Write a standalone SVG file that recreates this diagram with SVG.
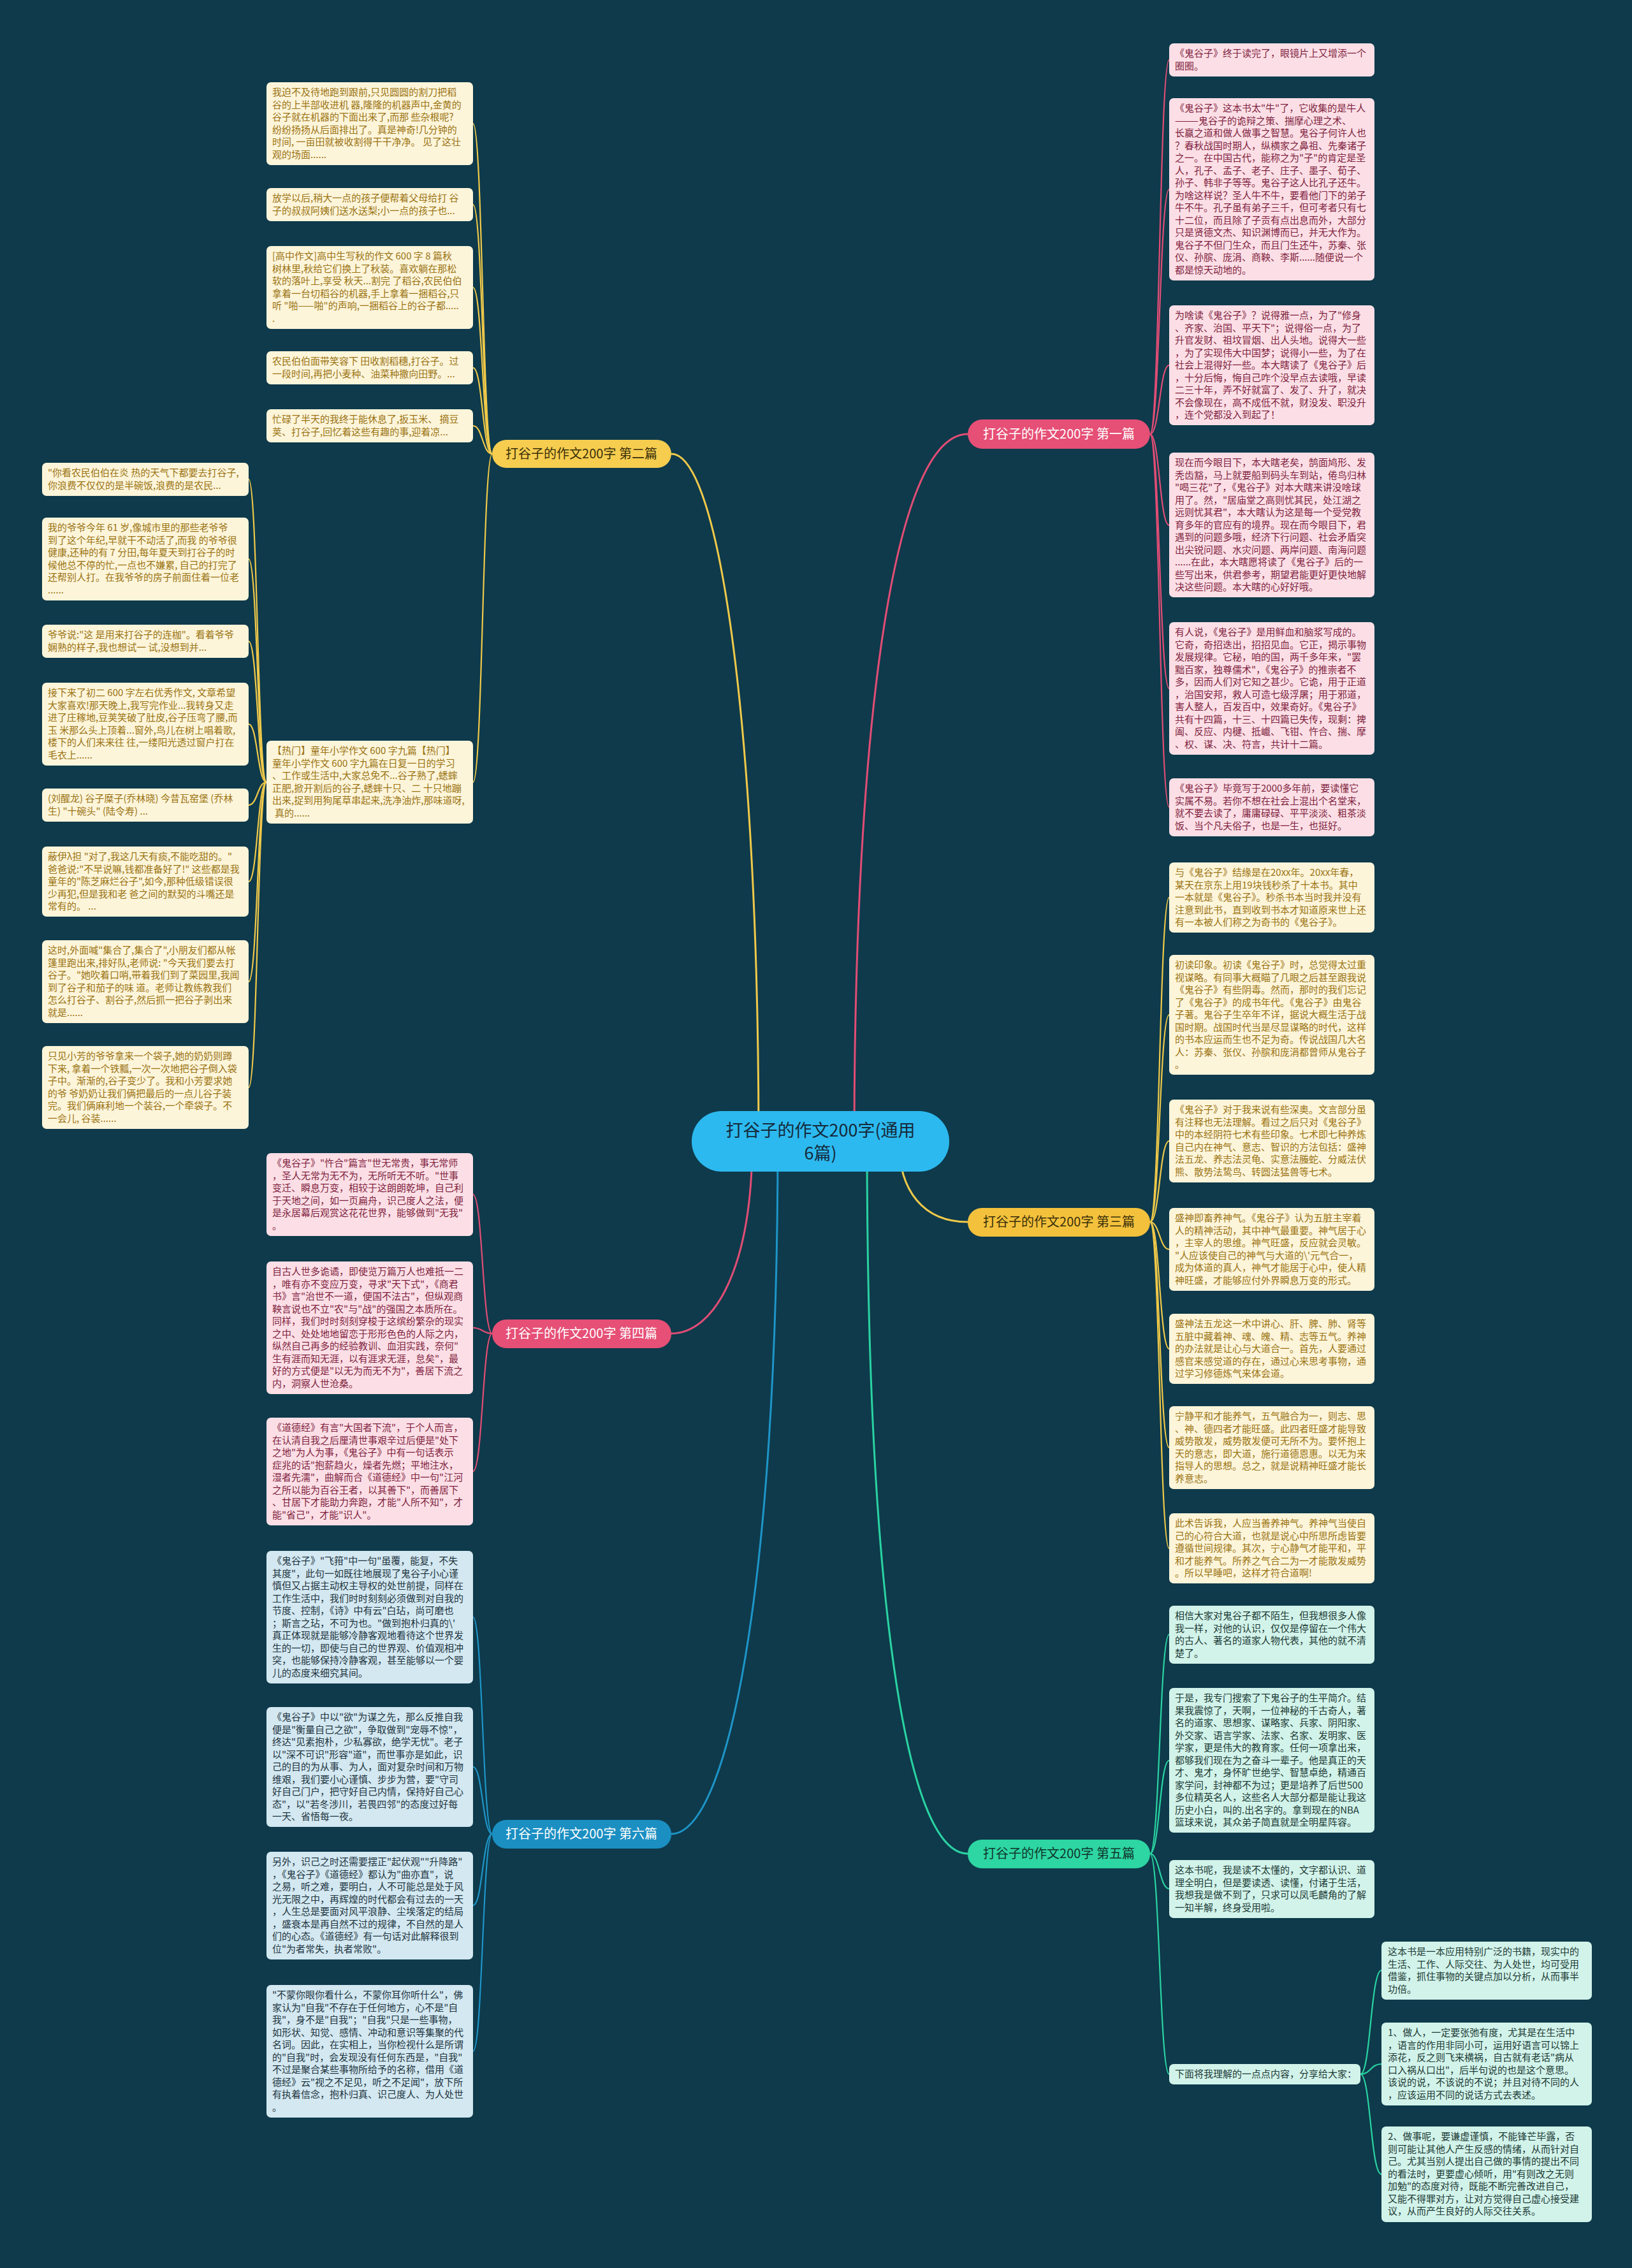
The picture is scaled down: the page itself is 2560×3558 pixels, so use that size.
<svg xmlns="http://www.w3.org/2000/svg" width="2560" height="3558" viewBox="0 0 2560 3558">
<style>
text{font-family:"Noto Sans CJK SC","Noto Sans",sans-serif;}
.t{font-size:15px;}
.bc{fill:#fdf5da;} .tc{fill:#9a7313;}
.bp{fill:#fcdfe6;} .tp{fill:#7f1f3f;}
.bb{fill:#d3e8f1;} .tb{fill:#1e3440;}
.bg{fill:#d2f3ea;} .tg{fill:#1c3a35;}
.c{fill:none;stroke-width:2.2;}
.m{fill:none;stroke-width:3;}
.cp{stroke:#e24d75;} .cy{stroke:#f0c94a;} .cg{stroke:#2ad3a2;} .cb{stroke:#1e95c8;}
.nt{font-size:20px;text-anchor:middle;}
</style>
<rect width="2560" height="3558" fill="#0e3a4b"/>
<g id="connectors">
<path class="m cp" d="M1340,1790 C1340,1150 1400,681 1518,681"/>
<path class="m cy" d="M1410,1790 C1410,1870 1450,1917 1518,1917"/>
<path class="m cg" d="M1360,1790 C1360,2500 1420,2908 1518,2908"/>
<path class="m cy" d="M1190,1790 C1190,1160 1130,712 1053,712"/>
<path class="m cp" d="M1180,1790 C1180,1990 1120,2092 1053,2092"/>
<path class="m cb" d="M1220,1790 C1220,2500 1140,2877 1053,2877"/>
<path class="c cp" d="M1804,681 C1819,681 1819,94 1834,94"/>
<path class="c cp" d="M1804,681 C1819,681 1819,297 1834,297"/>
<path class="c cp" d="M1804,681 C1819,681 1819,573 1834,573"/>
<path class="c cp" d="M1804,681 C1819,681 1819,824 1834,824"/>
<path class="c cp" d="M1804,681 C1819,681 1819,1080 1834,1080"/>
<path class="c cp" d="M1804,681 C1819,681 1819,1266 1834,1266"/>
<path class="c cy" d="M1804,1917 C1819,1917 1819,1408 1834,1408"/>
<path class="c cy" d="M1804,1917 C1819,1917 1819,1592 1834,1592"/>
<path class="c cy" d="M1804,1917 C1819,1917 1819,1790 1834,1790"/>
<path class="c cy" d="M1804,1917 C1819,1917 1819,1960 1834,1960"/>
<path class="c cy" d="M1804,1917 C1819,1917 1819,2116 1834,2116"/>
<path class="c cy" d="M1804,1917 C1819,1917 1819,2271 1834,2271"/>
<path class="c cy" d="M1804,1917 C1819,1917 1819,2429 1834,2429"/>
<path class="c cg" d="M1804,2908 C1819,2908 1819,2564 1834,2564"/>
<path class="c cg" d="M1804,2908 C1819,2908 1819,2762 1834,2762"/>
<path class="c cg" d="M1804,2908 C1819,2908 1819,2963 1834,2963"/>
<path class="c cg" d="M1804,2908 C1819,2908 1819,3254 1834,3254"/>
<path class="c cg" d="M2134,3254 C2150,3254 2150,3091 2167,3091"/>
<path class="c cg" d="M2134,3254 C2150,3254 2150,3238 2167,3238"/>
<path class="c cg" d="M2134,3254 C2150,3254 2150,3411 2167,3411"/>
<path class="c cy" d="M772,712 C757,712 757,194 742,194"/>
<path class="c cy" d="M772,712 C757,712 757,321 742,321"/>
<path class="c cy" d="M772,712 C757,712 757,451 742,451"/>
<path class="c cy" d="M772,712 C757,712 757,577 742,577"/>
<path class="c cy" d="M772,712 C757,712 757,668 742,668"/>
<path class="c cy" d="M772,712 C757,712 757,1227 742,1227"/>
<path class="c cy" d="M418,1227 C404,1227 404,752 390,752"/>
<path class="c cy" d="M418,1227 C404,1227 404,877 390,877"/>
<path class="c cy" d="M418,1227 C404,1227 404,1006 390,1006"/>
<path class="c cy" d="M418,1227 C404,1227 404,1136 390,1136"/>
<path class="c cy" d="M418,1227 C404,1227 404,1263 390,1263"/>
<path class="c cy" d="M418,1227 C404,1227 404,1383 390,1383"/>
<path class="c cy" d="M418,1227 C404,1227 404,1540 390,1540"/>
<path class="c cy" d="M418,1227 C404,1227 404,1706 390,1706"/>
<path class="c cp" d="M772,2092 C757,2092 757,1874 742,1874"/>
<path class="c cp" d="M772,2092 C757,2092 757,2083 742,2083"/>
<path class="c cp" d="M772,2092 C757,2092 757,2308 742,2308"/>
<path class="c cb" d="M772,2877 C757,2877 757,2537 742,2537"/>
<path class="c cb" d="M772,2877 C757,2877 757,2772 742,2772"/>
<path class="c cb" d="M772,2877 C757,2877 757,2989 742,2989"/>
<path class="c cb" d="M772,2877 C757,2877 757,3218 742,3218"/>
</g>
<g id="center"><rect x="1085" y="1743" width="404" height="95" rx="47" fill="#2cb9ef"/><text x="1287" y="1783" font-size="27" text-anchor="middle" fill="#15293a">打谷子的作文200字(通用<tspan x="1287" dy="36">6篇)</tspan></text></g>
<g id="b1"><rect x="1518" y="658" width="286" height="46" rx="23" fill="#e64f76"/><text class="nt" x="1661" y="688" fill="#ffffff">打谷子的作文200字 第一篇</text></g>
<g id="b2"><rect x="772" y="690" width="281" height="44" rx="22" fill="#f6cd4f"/><text class="nt" x="912" y="719" fill="#3a2f0a">打谷子的作文200字 第二篇</text></g>
<g id="b3"><rect x="1518" y="1895" width="286" height="45" rx="22" fill="#f3c13c"/><text class="nt" x="1661" y="1924" fill="#3a2f0a">打谷子的作文200字 第三篇</text></g>
<g id="b4"><rect x="772" y="2070" width="281" height="45" rx="22" fill="#e64f76"/><text class="nt" x="912" y="2099" fill="#ffffff">打谷子的作文200字 第四篇</text></g>
<g id="b5"><rect x="1518" y="2886" width="286" height="45" rx="22" fill="#2dd6a2"/><text class="nt" x="1661" y="2915" fill="#10352c">打谷子的作文200字 第五篇</text></g>
<g id="b6"><rect x="772" y="2855" width="281" height="45" rx="22" fill="#1b8fc2"/><text class="nt" x="912" y="2884" fill="#ffffff">打谷子的作文200字 第六篇</text></g>

<g id="l1"><rect class="bc" x="418" y="129" width="324" height="130" rx="7"/><text class="t tc" x="427" y="150"><tspan x="427">我迫不及待地跑到跟前,只见圆圆的割刀把稻</tspan><tspan x="427" dy="19.5">谷的上半部收进机 器,隆隆的机器声中,金黄的</tspan><tspan x="427" dy="19.5">谷子就在机器的下面出来了,而那 些杂根呢?</tspan><tspan x="427" dy="19.5">纷纷扬扬从后面排出了。真是神奇!几分钟的</tspan><tspan x="427" dy="19.5">时间, 一亩田就被收割得干干净净。 见了这壮</tspan><tspan x="427" dy="19.5">观的场面......</tspan></text></g>
<g id="l2"><rect class="bc" x="418" y="295" width="324" height="52" rx="7"/><text class="t tc" x="427" y="316"><tspan x="427">放学以后,稍大一点的孩子便帮着父母给打 谷</tspan><tspan x="427" dy="19.5">子的叔叔阿姨们送水送梨;小一点的孩子也...</tspan></text></g>
<g id="l3"><rect class="bc" x="418" y="386" width="324" height="130" rx="7"/><text class="t tc" x="427" y="407"><tspan x="427">[高中作文]高中生写秋的作文 600 字 8 篇秋</tspan><tspan x="427" dy="19.5">树林里,秋给它们换上了秋装。喜欢躺在那松</tspan><tspan x="427" dy="19.5">软的落叶上,享受 秋天...割完 了稻谷,农民伯伯</tspan><tspan x="427" dy="19.5">拿着一台切稻谷的机器,手上拿着一捆稻谷,只</tspan><tspan x="427" dy="19.5">听 "啪——啪"的声响,一捆稻谷上的谷子都.....</tspan><tspan x="427" dy="19.5">.</tspan></text></g>
<g id="l4"><rect class="bc" x="418" y="551" width="324" height="52" rx="7"/><text class="t tc" x="427" y="572"><tspan x="427">农民伯伯面带笑容下 田收割稻穗,打谷子。过</tspan><tspan x="427" dy="19.5">一段时间,再把小麦种、油菜种撒向田野。...</tspan></text></g>
<g id="l5"><rect class="bc" x="418" y="642" width="324" height="52" rx="7"/><text class="t tc" x="427" y="663"><tspan x="427">忙碌了半天的我终于能休息了,扳玉米、 摘豆</tspan><tspan x="427" dy="19.5">荚、打谷子,回忆着这些有趣的事,迎着凉...</tspan></text></g>
<g id="l6"><rect class="bc" x="418" y="1162" width="324" height="130" rx="7"/><text class="t tc" x="427" y="1183"><tspan x="427">【热门】童年小学作文 600 字九篇【热门】</tspan><tspan x="427" dy="19.5">童年小学作文 600 字九篇在日复一日的学习</tspan><tspan x="427" dy="19.5">、工作或生活中,大家总免不...谷子熟了,蟋蟀</tspan><tspan x="427" dy="19.5">正肥,掀开割后的谷子,蟋蟀十只、二 十只地蹦</tspan><tspan x="427" dy="19.5">出来,捉到用狗尾草串起来,洗净油炸,那味道呀,</tspan><tspan x="431" dy="19.5">真的......</tspan></text></g>

<g id="f1"><rect class="bc" x="66" y="726" width="324" height="52" rx="7"/><text class="t tc" x="75" y="747"><tspan x="75">"你看农民伯伯在炎 热的天气下都要去打谷子,</tspan><tspan x="75" dy="19.5">你浪费不仅仅的是半碗饭,浪费的是农民...</tspan></text></g>
<g id="f2"><rect class="bc" x="66" y="812" width="324" height="130" rx="7"/><text class="t tc" x="75" y="833"><tspan x="75">我的爷爷今年 61 岁,像城市里的那些老爷爷</tspan><tspan x="75" dy="19.5">到了这个年纪,早就干不动活了,而我 的爷爷很</tspan><tspan x="75" dy="19.5">健康,还种的有 7 分田,每年夏天到打谷子的时</tspan><tspan x="75" dy="19.5">候他总不停的忙,一点也不嫌累, 自己的打完了</tspan><tspan x="75" dy="19.5">还帮别人打。在我爷爷的房子前面住着一位老</tspan><tspan x="75" dy="19.5">......</tspan></text></g>
<g id="f3"><rect class="bc" x="66" y="980" width="324" height="52" rx="7"/><text class="t tc" x="75" y="1001"><tspan x="75">爷爷说:"这 是用来打谷子的连枷"。看着爷爷</tspan><tspan x="75" dy="19.5">娴熟的样子,我也想试一 试,没想到并...</tspan></text></g>
<g id="f4"><rect class="bc" x="66" y="1071" width="324" height="130" rx="7"/><text class="t tc" x="75" y="1092"><tspan x="75">接下来了初二 600 字左右优秀作文, 文章希望</tspan><tspan x="75" dy="19.5">大家喜欢!那天晚上,我写完作业...我转身又走</tspan><tspan x="75" dy="19.5">进了庄稼地,豆荚笑破了肚皮,谷子压弯了腰,而</tspan><tspan x="75" dy="19.5">玉 米那么头上顶着...窗外,鸟儿在树上唱着歌,</tspan><tspan x="75" dy="19.5">楼下的人们来来往 往,一缕阳光透过窗户打在</tspan><tspan x="75" dy="19.5">毛衣上......</tspan></text></g>
<g id="f5"><rect class="bc" x="66" y="1237" width="324" height="52" rx="7"/><text class="t tc" x="75" y="1258"><tspan x="75">(刘醒龙) 谷子糜子(乔林晓) 今昔瓦窑堡 (乔林</tspan><tspan x="75" dy="19.5">生) "十碗头" (陆令寿) ...</tspan></text></g>
<g id="f6"><rect class="bc" x="66" y="1328" width="324" height="110" rx="7"/><text class="t tc" x="75" y="1349"><tspan x="75">蔽伊λ担  "对了,我这几天有痰,不能吃甜的。"</tspan><tspan x="75" dy="19.5">爸爸说:"不早说嘛,钱都准备好了!" 这些都是我</tspan><tspan x="75" dy="19.5">童年的"陈芝麻烂谷子",如今,那种低级错误很</tspan><tspan x="75" dy="19.5">少再犯,但是我和老 爸之间的默契的斗嘴还是</tspan><tspan x="75" dy="19.5">常有的。 ...</tspan></text></g>
<g id="f7"><rect class="bc" x="66" y="1475" width="324" height="130" rx="7"/><text class="t tc" x="75" y="1496"><tspan x="75">这时,外面喊"集合了,集合了",小朋友们都从帐</tspan><tspan x="75" dy="19.5">篷里跑出来,排好队,老师说: "今天我们要去打</tspan><tspan x="75" dy="19.5">谷子。"她吹着口哨,带着我们到了菜园里,我闻</tspan><tspan x="75" dy="19.5">到了谷子和茄子的味 道。老师让教练教我们</tspan><tspan x="75" dy="19.5">怎么打谷子、割谷子,然后抓一把谷子剥出来</tspan><tspan x="75" dy="19.5">就是......</tspan></text></g>
<g id="f8"><rect class="bc" x="66" y="1641" width="324" height="130" rx="7"/><text class="t tc" x="75" y="1662"><tspan x="75">只见小芳的爷爷拿来一个袋子,她的奶奶则蹲</tspan><tspan x="75" dy="19.5">下来, 拿着一个铁瓢,一次一次地把谷子倒入袋</tspan><tspan x="75" dy="19.5">子中。渐渐的,谷子变少了。我和小芳要求她</tspan><tspan x="75" dy="19.5">的爷 爷奶奶让我们俩把最后的一点儿谷子装</tspan><tspan x="75" dy="19.5">完。我们俩麻利地一个装谷,一个牵袋子。不</tspan><tspan x="75" dy="19.5">一会儿, 谷装......</tspan></text></g>

<g id="p1"><rect class="bp" x="418" y="1809" width="324" height="130" rx="7"/><text class="t tp" x="427" y="1830"><tspan x="427">《鬼谷子》"忤合"篇言"世无常贵，事无常师</tspan><tspan x="427" dy="19.5">，圣人无常为无不为，无所听无不听。"世事</tspan><tspan x="427" dy="19.5">变迁、瞬息万变，相较于这朗朗乾坤，自己利</tspan><tspan x="427" dy="19.5">于天地之间，如一页扁舟，识己度人之法，便</tspan><tspan x="427" dy="19.5">是永居幕后观赏这花花世界，能够做到"无我"</tspan><tspan x="427" dy="19.5">。</tspan></text></g>
<g id="p2"><rect class="bp" x="418" y="1979" width="324" height="208" rx="7"/><text class="t tp" x="427" y="2000"><tspan x="427">自古人世多诡谲，即使览万篇万人也难抵一二</tspan><tspan x="427" dy="19.5">，唯有亦不变应万变，寻求"天下式"，《商君</tspan><tspan x="427" dy="19.5">书》言"治世不一道，便国不法古"，但纵观商</tspan><tspan x="427" dy="19.5">鞅言说也不立"农"与"战"的强国之本质所在。</tspan><tspan x="427" dy="19.5">同样，我们时时刻刻穿梭于这缤纷繁杂的现实</tspan><tspan x="427" dy="19.5">之中、处处地地留恋于形形色色的人际之内，</tspan><tspan x="427" dy="19.5">纵然自己再多的经验教训、血泪实践，奈何"</tspan><tspan x="427" dy="19.5">生有涯而知无涯，以有涯求无涯，怠矣"，最</tspan><tspan x="427" dy="19.5">好的方式便是"以无为而无不为"，善居下流之</tspan><tspan x="427" dy="19.5">内，洞察人世沧桑。</tspan></text></g>
<g id="p3"><rect class="bp" x="418" y="2224" width="324" height="169" rx="7"/><text class="t tp" x="427" y="2245"><tspan x="427">《道德经》有言"大国者下流"，于个人而言，</tspan><tspan x="427" dy="19.5">在认清自我之后厘清世事艰辛过后便是"处下</tspan><tspan x="427" dy="19.5">之地"为人为事，《鬼谷子》中有一句话表示</tspan><tspan x="427" dy="19.5">症兆的话"抱薪趋火，燥者先燃；平地注水，</tspan><tspan x="427" dy="19.5">湿者先濡"，曲解而合《道德经》中一句"江河</tspan><tspan x="427" dy="19.5">之所以能为百谷王者，以其善下"，而善居下</tspan><tspan x="427" dy="19.5">、甘居下才能助力奔跑，才能"人所不知"，才</tspan><tspan x="427" dy="19.5">能"省己"，才能"识人"。</tspan></text></g>

<g id="s1"><rect class="bb" x="418" y="2433" width="324" height="208" rx="7"/><text class="t tb" x="427" y="2454"><tspan x="427">《鬼谷子》"飞箝"中一句"虽覆，能复，不失</tspan><tspan x="427" dy="19.5">其度"，此句一如既往地展现了鬼谷子小心谨</tspan><tspan x="427" dy="19.5">慎但又占据主动权主导权的处世前提，同样在</tspan><tspan x="427" dy="19.5">工作生活中，我们时时刻刻必须做到对自我的</tspan><tspan x="427" dy="19.5">节度、控制，《诗》中有云"白玷，尚可磨也</tspan><tspan x="427" dy="19.5">；斯言之玷，不可为也。"做到抱朴归真的\'</tspan><tspan x="427" dy="19.5">真正体现就是能够冷静客观地看待这个世界发</tspan><tspan x="427" dy="19.5">生的一切，即使与自己的世界观、价值观相冲</tspan><tspan x="427" dy="19.5">突，也能够保持冷静客观，甚至能够以一个婴</tspan><tspan x="427" dy="19.5">儿的态度来细究其间。</tspan></text></g>
<g id="s2"><rect class="bb" x="418" y="2678" width="324" height="188" rx="7"/><text class="t tb" x="427" y="2699"><tspan x="427">《鬼谷子》中以"欲"为谋之先，那么反推自我</tspan><tspan x="427" dy="19.5">便是"衡量自己之欲"，争取做到"宠辱不惊"，</tspan><tspan x="427" dy="19.5">终达"见素抱朴，少私寡欲，绝学无忧"。老子</tspan><tspan x="427" dy="19.5">以"深不可识"形容"道"，而世事亦是如此，识</tspan><tspan x="427" dy="19.5">己的目的为从事、为人，面对复杂时间和万物</tspan><tspan x="427" dy="19.5">维艰，我们要小心谨慎、步步为营，要"守司</tspan><tspan x="427" dy="19.5">好自己门户，把守好自己内情，保持好自己心</tspan><tspan x="427" dy="19.5">态"，以"若冬涉川，若畏四邻"的态度过好每</tspan><tspan x="427" dy="19.5">一天、省悟每一夜。</tspan></text></g>
<g id="s3"><rect class="bb" x="418" y="2905" width="324" height="169" rx="7"/><text class="t tb" x="427" y="2926"><tspan x="427">另外，识己之时还需要摆正"起伏观""升降路"</tspan><tspan x="427" dy="19.5">，《鬼谷子》《道德经》都认为"曲亦直"，说</tspan><tspan x="427" dy="19.5">之易，听之难，要明白，人不可能总是处于风</tspan><tspan x="427" dy="19.5">光无限之中，再辉煌的时代都会有过去的一天</tspan><tspan x="427" dy="19.5">，人生总是要面对风平浪静、尘埃落定的结局</tspan><tspan x="427" dy="19.5">，盛衰本是再自然不过的规律，不自然的是人</tspan><tspan x="427" dy="19.5">们的心态。《道德经》有一句话对此解释很到</tspan><tspan x="427" dy="19.5">位"为者常失，执者常败"。</tspan></text></g>
<g id="s4"><rect class="bb" x="418" y="3114" width="324" height="208" rx="7"/><text class="t tb" x="427" y="3135"><tspan x="427">"不蒙你眼你看什么，不蒙你耳你听什么"，佛</tspan><tspan x="427" dy="19.5">家认为"自我"不存在于任何地方，心不是"自</tspan><tspan x="427" dy="19.5">我"，身不是"自我"；"自我"只是一些事物，</tspan><tspan x="427" dy="19.5">如形状、知觉、感情、冲动和意识等集聚的代</tspan><tspan x="427" dy="19.5">名词。因此，在实相上，当你检视什么是所谓</tspan><tspan x="427" dy="19.5">的"自我"时，会发现没有任何东西是，"自我"</tspan><tspan x="427" dy="19.5">不过是聚合某些事物所给予的名称，借用《道</tspan><tspan x="427" dy="19.5">德经》云"视之不足见，听之不足闻"，放下所</tspan><tspan x="427" dy="19.5">有执着信念，抱朴归真、识己度人、为人处世</tspan><tspan x="427" dy="19.5">。</tspan></text></g>

<g id="r1"><rect class="bp" x="1834" y="68" width="322" height="52" rx="7"/><text class="t tp" x="1843" y="89"><tspan x="1843">《鬼谷子》终于读完了，眼镜片上又增添一个</tspan><tspan x="1843" dy="19.5">圈圈。</tspan></text></g>
<g id="r2"><rect class="bp" x="1834" y="154" width="322" height="286" rx="7"/><text class="t tp" x="1843" y="175"><tspan x="1843">《鬼谷子》这本书太"牛"了，它收集的是牛人</tspan><tspan x="1843" dy="19.5">———鬼谷子的诡辩之策、揣摩心理之术、</tspan><tspan x="1843" dy="19.5">长赢之道和做人做事之智慧。鬼谷子何许人也</tspan><tspan x="1843" dy="19.5">？春秋战国时期人，纵横家之鼻祖、先秦诸子</tspan><tspan x="1843" dy="19.5">之一。在中国古代，能称之为"子"的肯定是圣</tspan><tspan x="1843" dy="19.5">人，孔子、孟子、老子、庄子、墨子、荀子、</tspan><tspan x="1843" dy="19.5">孙子、韩非子等等。鬼谷子这人比孔子还牛。</tspan><tspan x="1843" dy="19.5">为啥这样说？圣人牛不牛，要看他门下的弟子</tspan><tspan x="1843" dy="19.5">牛不牛。孔子虽有弟子三千，但可考者只有七</tspan><tspan x="1843" dy="19.5">十二位，而且除了子贡有点出息而外，大部分</tspan><tspan x="1843" dy="19.5">只是贤德文杰、知识渊博而已，并无大作为。</tspan><tspan x="1843" dy="19.5">鬼谷子不但门生众，而且门生还牛，苏秦、张</tspan><tspan x="1843" dy="19.5">仪、孙膑、庞涓、商鞅、李斯......随便说一个</tspan><tspan x="1843" dy="19.5">都是惊天动地的。</tspan></text></g>
<g id="r3"><rect class="bp" x="1834" y="479" width="322" height="188" rx="7"/><text class="t tp" x="1843" y="500"><tspan x="1843">为啥读《鬼谷子》？说得雅一点，为了"修身</tspan><tspan x="1843" dy="19.5">、齐家、治国、平天下"；说得俗一点，为了</tspan><tspan x="1843" dy="19.5">升官发财、祖坟冒烟、出人头地。说得大一些</tspan><tspan x="1843" dy="19.5">，为了实现伟大中国梦；说得小一些，为了在</tspan><tspan x="1843" dy="19.5">社会上混得好一些。本大瞎读了《鬼谷子》后</tspan><tspan x="1843" dy="19.5">，十分后悔，悔自己咋个没早点去读哦，早读</tspan><tspan x="1843" dy="19.5">二三十年，弄不好就富了、发了、升了，就决</tspan><tspan x="1843" dy="19.5">不会像现在，高不成低不就，财没发、职没升</tspan><tspan x="1843" dy="19.5">，连个党都没入到起了！</tspan></text></g>
<g id="r4"><rect class="bp" x="1834" y="710" width="322" height="227" rx="7"/><text class="t tp" x="1843" y="731"><tspan x="1843">现在而今眼目下，本大瞎老矣，鹄面鸠形、发</tspan><tspan x="1843" dy="19.5">秃齿豁，马上就要船到码头车到站，倦鸟归林</tspan><tspan x="1843" dy="19.5">"喝三花"了，《鬼谷子》对本大瞎来讲没啥球</tspan><tspan x="1843" dy="19.5">用了。然，"居庙堂之高则忧其民，处江湖之</tspan><tspan x="1843" dy="19.5">远则忧其君"，本大瞎认为这是每一个受党教</tspan><tspan x="1843" dy="19.5">育多年的官应有的境界。现在而今眼目下，君</tspan><tspan x="1843" dy="19.5">遇到的问题多哦，经济下行问题、社会矛盾突</tspan><tspan x="1843" dy="19.5">出尖锐问题、水灾问题、两岸问题、南海问题</tspan><tspan x="1843" dy="19.5">......在此，本大瞎愿将读了《鬼谷子》后的一</tspan><tspan x="1843" dy="19.5">些写出来，供君参考，期望君能更好更快地解</tspan><tspan x="1843" dy="19.5">决这些问题。本大瞎的心好好哦。</tspan></text></g>
<g id="r5"><rect class="bp" x="1834" y="976" width="322" height="208" rx="7"/><text class="t tp" x="1843" y="997"><tspan x="1843">有人说，《鬼谷子》是用鲜血和脑浆写成的。</tspan><tspan x="1843" dy="19.5">它奇，奇招迭出，招招见血。它正，揭示事物</tspan><tspan x="1843" dy="19.5">发展规律。它秘，咱的国，两千多年来，"罢</tspan><tspan x="1843" dy="19.5">黜百家，独尊儒术"，《鬼谷子》的推崇者不</tspan><tspan x="1843" dy="19.5">多，因而人们对它知之甚少。它诡，用于正道</tspan><tspan x="1843" dy="19.5">，治国安邦，救人可造七级浮屠；用于邪道，</tspan><tspan x="1843" dy="19.5">害人整人，百发百中，效果奇好。《鬼谷子》</tspan><tspan x="1843" dy="19.5">共有十四篇，十三、十四篇已失传，现剩：捭</tspan><tspan x="1843" dy="19.5">阖、反应、内楗、抵巇、飞钳、忤合、揣、摩</tspan><tspan x="1843" dy="19.5">、权、谋、决、符言，共计十二篇。</tspan></text></g>
<g id="r6"><rect class="bp" x="1834" y="1221" width="322" height="91" rx="7"/><text class="t tp" x="1843" y="1242"><tspan x="1843">《鬼谷子》毕竟写于2000多年前，要读懂它</tspan><tspan x="1843" dy="19.5">实属不易。若你不想在社会上混出个名堂来，</tspan><tspan x="1843" dy="19.5">就不要去读了，庸庸碌碌、平平淡淡、粗茶淡</tspan><tspan x="1843" dy="19.5">饭、当个凡夫俗子，也是一生，也挺好。</tspan></text></g>

<g id="y1"><rect class="bc" x="1834" y="1353" width="322" height="110" rx="7"/><text class="t tc" x="1843" y="1374"><tspan x="1843">与《鬼谷子》结缘是在20xx年。20xx年春，</tspan><tspan x="1843" dy="19.5">某天在京东上用19块钱秒杀了十本书。其中</tspan><tspan x="1843" dy="19.5">一本就是《鬼谷子》。秒杀书本当时我并没有</tspan><tspan x="1843" dy="19.5">注意到此书，直到收到书本才知道原来世上还</tspan><tspan x="1843" dy="19.5">有一本被人们称之为奇书的《鬼谷子》。</tspan></text></g>
<g id="y2"><rect class="bc" x="1834" y="1498" width="322" height="188" rx="7"/><text class="t tc" x="1843" y="1519"><tspan x="1843">初读印象。初读《鬼谷子》时，总觉得太过重</tspan><tspan x="1843" dy="19.5">视谋略。有同事大概瞄了几眼之后甚至跟我说</tspan><tspan x="1843" dy="19.5">《鬼谷子》有些阴毒。然而，那时的我们忘记</tspan><tspan x="1843" dy="19.5">了《鬼谷子》的成书年代。《鬼谷子》由鬼谷</tspan><tspan x="1843" dy="19.5">子著。鬼谷子生卒年不详，据说大概生活于战</tspan><tspan x="1843" dy="19.5">国时期。战国时代当是尽显谋略的时代，这样</tspan><tspan x="1843" dy="19.5">的书本应运而生也不足为奇。传说战国几大名</tspan><tspan x="1843" dy="19.5">人：苏秦、张仪、孙膑和庞涓都曾师从鬼谷子</tspan><tspan x="1843" dy="19.5">。</tspan></text></g>
<g id="y3"><rect class="bc" x="1834" y="1725" width="322" height="130" rx="7"/><text class="t tc" x="1843" y="1746"><tspan x="1843">《鬼谷子》对于我来说有些深奥。文言部分虽</tspan><tspan x="1843" dy="19.5">有注释也无法理解。看过之后只对《鬼谷子》</tspan><tspan x="1843" dy="19.5">中的本经阴符七术有些印象。七术即七种养炼</tspan><tspan x="1843" dy="19.5">自己内在神气、意志、智识的方法包括：盛神</tspan><tspan x="1843" dy="19.5">法五龙、养志法灵龟、实意法螣蛇、分威法伏</tspan><tspan x="1843" dy="19.5">熊、散势法鸷鸟、转圆法猛兽等七术。</tspan></text></g>
<g id="y4"><rect class="bc" x="1834" y="1895" width="322" height="130" rx="7"/><text class="t tc" x="1843" y="1916"><tspan x="1843">盛神即畜养神气。《鬼谷子》认为五脏主宰着</tspan><tspan x="1843" dy="19.5">人的精神活动，其中神气最重要。神气居于心</tspan><tspan x="1843" dy="19.5">，主宰人的思维。神气旺盛，反应就会灵敏。</tspan><tspan x="1843" dy="19.5">"人应该使自己的神气与大道的\'元气合一，</tspan><tspan x="1843" dy="19.5">成为体道的真人，神气才能居于心中，使人精</tspan><tspan x="1843" dy="19.5">神旺盛，才能够应付外界瞬息万变的形式。</tspan></text></g>
<g id="y5"><rect class="bc" x="1834" y="2061" width="322" height="110" rx="7"/><text class="t tc" x="1843" y="2082"><tspan x="1843">盛神法五龙这一术中讲心、肝、脾、肺、肾等</tspan><tspan x="1843" dy="19.5">五脏中藏着神、魂、魄、精、志等五气。养神</tspan><tspan x="1843" dy="19.5">的办法就是让心与大道合一。首先，人要通过</tspan><tspan x="1843" dy="19.5">感官来感觉道的存在，通过心来思考事物，通</tspan><tspan x="1843" dy="19.5">过学习修德炼气来体会道。</tspan></text></g>
<g id="y6"><rect class="bc" x="1834" y="2206" width="322" height="130" rx="7"/><text class="t tc" x="1843" y="2227"><tspan x="1843">宁静平和才能养气，五气融合为一，则志、思</tspan><tspan x="1843" dy="19.5">、神、德四者才能旺盛。此四者旺盛才能导致</tspan><tspan x="1843" dy="19.5">威势散发，威势散发便可无所不为。要怀抱上</tspan><tspan x="1843" dy="19.5">天的意志，即大道，施行道德恩惠。以无为来</tspan><tspan x="1843" dy="19.5">指导人的思想。总之，就是说精神旺盛才能长</tspan><tspan x="1843" dy="19.5">养意志。</tspan></text></g>
<g id="y7"><rect class="bc" x="1834" y="2374" width="322" height="110" rx="7"/><text class="t tc" x="1843" y="2395"><tspan x="1843">此术告诉我，人应当善养神气。养神气当使自</tspan><tspan x="1843" dy="19.5">己的心符合大道，也就是说心中所思所虑皆要</tspan><tspan x="1843" dy="19.5">遵循世间规律。其次，宁心静气才能平和，平</tspan><tspan x="1843" dy="19.5">和才能养气。所养之气合二为一才能散发威势</tspan><tspan x="1843" dy="19.5">。所以早睡吧，这样才符合道啊!</tspan></text></g>

<g id="g1"><rect class="bg" x="1834" y="2519" width="322" height="91" rx="7"/><text class="t tg" x="1843" y="2540"><tspan x="1843">相信大家对鬼谷子都不陌生，但我想很多人像</tspan><tspan x="1843" dy="19.5">我一样，对他的认识，仅仅是停留在一个伟大</tspan><tspan x="1843" dy="19.5">的古人、著名的道家人物代表，其他的就不清</tspan><tspan x="1843" dy="19.5">楚了。</tspan></text></g>
<g id="g2"><rect class="bg" x="1834" y="2648" width="322" height="227" rx="7"/><text class="t tg" x="1843" y="2669"><tspan x="1843">于是，我专门搜索了下鬼谷子的生平简介。结</tspan><tspan x="1843" dy="19.5">果我震惊了，天啊，一位神秘的千古奇人，著</tspan><tspan x="1843" dy="19.5">名的道家、思想家、谋略家、兵家、阴阳家、</tspan><tspan x="1843" dy="19.5">外交家、语言学家、法家、名家、发明家、医</tspan><tspan x="1843" dy="19.5">学家，更是伟大的教育家。任何一项拿出来，</tspan><tspan x="1843" dy="19.5">都够我们现在为之奋斗一辈子。他是真正的天</tspan><tspan x="1843" dy="19.5">才、鬼才，身怀旷世绝学、智慧卓绝，精通百</tspan><tspan x="1843" dy="19.5">家学问，封神都不为过；更是培养了后世500</tspan><tspan x="1843" dy="19.5">多位精英名人，这些名人大部分都是能让我这</tspan><tspan x="1843" dy="19.5">历史小白，叫的.出名字的。拿到现在的NBA</tspan><tspan x="1843" dy="19.5">篮球来说，其众弟子简直就是全明星阵容。</tspan></text></g>
<g id="g3"><rect class="bg" x="1834" y="2918" width="322" height="91" rx="7"/><text class="t tg" x="1843" y="2939"><tspan x="1843">这本书呢，我是读不太懂的，文字都认识、道</tspan><tspan x="1843" dy="19.5">理全明白，但是要读透、读懂，付诸于生活，</tspan><tspan x="1843" dy="19.5">我想我是做不到了，只求可以凤毛麟角的了解</tspan><tspan x="1843" dy="19.5">一知半解，终身受用啦。</tspan></text></g>
<g id="g4"><rect class="bg" x="1834" y="3238" width="300" height="32" rx="7"/><text class="t tg" x="1843" y="3259">下面将我理解的一点点内容，分享给大家：</text></g>
<g id="h1"><rect class="bg" x="2167" y="3046" width="330" height="91" rx="7"/><text class="t tg" x="2177" y="3067"><tspan x="2177">这本书是一本应用特别广泛的书籍，现实中的</tspan><tspan x="2177" dy="19.5">生活、工作、人际交往、为人处世，均可受用</tspan><tspan x="2177" dy="19.5">借鉴，抓住事物的关键点加以分析，从而事半</tspan><tspan x="2177" dy="19.5">功倍。</tspan></text></g>
<g id="h2"><rect class="bg" x="2167" y="3173" width="330" height="130" rx="7"/><text class="t tg" x="2177" y="3194"><tspan x="2177">1、做人，一定要张弛有度，尤其是在生活中</tspan><tspan x="2177" dy="19.5">，语言的作用非同小可，运用好语言可以锦上</tspan><tspan x="2177" dy="19.5">添花，反之则飞来横祸，自古就有老话"病从</tspan><tspan x="2177" dy="19.5">口入祸从口出"，后半句说的也是这个意思。</tspan><tspan x="2177" dy="19.5">该说的说，不该说的不说；并且对待不同的人</tspan><tspan x="2177" dy="19.5">，应该运用不同的说话方式去表述。</tspan></text></g>
<g id="h3"><rect class="bg" x="2167" y="3336" width="330" height="150" rx="7"/><text class="t tg" x="2177" y="3357"><tspan x="2177">2、做事呢，要谦虚谨慎，不能锋芒毕露，否</tspan><tspan x="2177" dy="19.5">则可能让其他人产生反感的情绪，从而针对自</tspan><tspan x="2177" dy="19.5">己。尤其当别人提出自己做的事情的提出不同</tspan><tspan x="2177" dy="19.5">的看法时，更要虚心倾听，用"有则改之无则</tspan><tspan x="2177" dy="19.5">加勉"的态度对待，既能不断完善改进自己，</tspan><tspan x="2177" dy="19.5">又能不得罪对方，让对方觉得自己虚心接受建</tspan><tspan x="2177" dy="19.5">议，从而产生良好的人际交往关系。</tspan></text></g>
</svg>
